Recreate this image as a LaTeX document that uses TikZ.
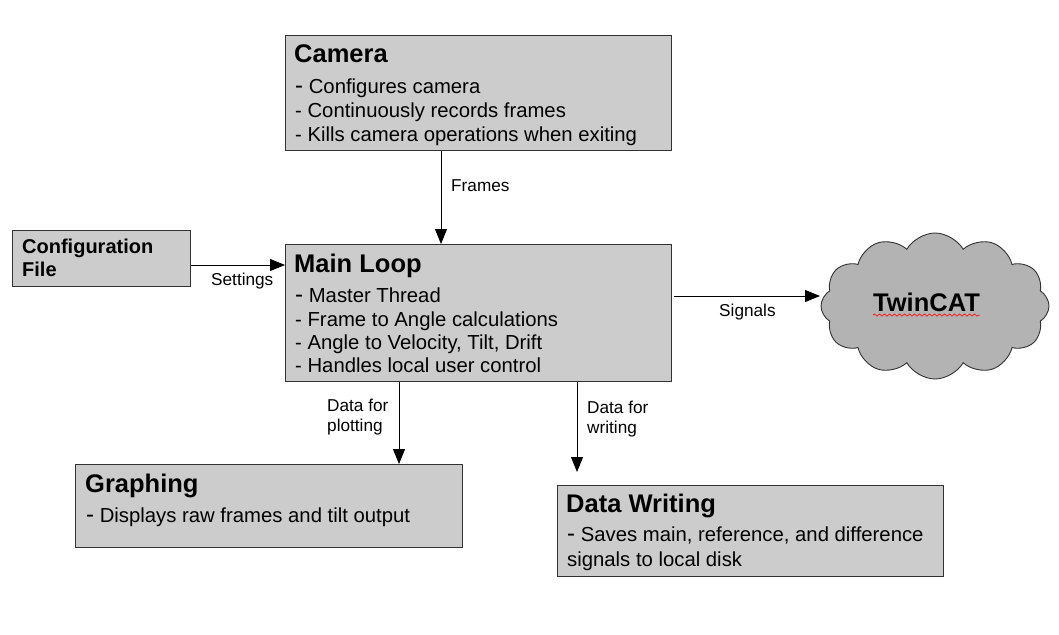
\documentclass[tikz,border=0pt]{standalone}
\usepackage{fontspec}
\setmainfont{Liberation Sans}
\usetikzlibrary{arrows.meta,shapes.symbols,decorations.pathmorphing}
\definecolor{boxfill}{HTML}{CCCCCC}
\definecolor{cloudfill}{HTML}{B3B3B3}
\definecolor{edgecol}{HTML}{333333}
\begin{document}
\begin{tikzpicture}[x=1pt,y=-1pt,
  box/.style={draw=edgecol, fill=boxfill, line width=0.9pt, inner sep=0, anchor=north west},
  ttl/.style={anchor=base west, inner sep=0, font=\fontsize{25.5}{28}\selectfont\bfseries},
  bodytxt/.style={anchor=base west, inner sep=0, font=\fontsize{20.3}{23}\selectfont},
  cfgtxt/.style={anchor=base west, inner sep=0, font=\fontsize{20}{22}\selectfont\bfseries},
  lbl/.style={anchor=base west, inner sep=0, font=\fontsize{17.2}{19}\selectfont},
  arr/.style={-{Triangle[length=15pt,width=12pt]}, line width=0.9pt, black}
]
\useasboundingbox (0,0) rectangle (1059,634);

% boxes
\node[box, minimum width=386, minimum height=115] (cam) at (285,35) {};
\node[box, minimum width=386, minimum height=137] (main) at (285,244) {};
\node[box, minimum width=178, minimum height=56] (cfg) at (12,230) {};
\node[box, minimum width=387, minimum height=83] (graph) at (75,464) {};
\node[box, minimum width=386, minimum height=91] (dw) at (557,485) {};
\node[cloud, cloud puffs=12, cloud puff arc=120, aspect=1.55, draw=edgecol, fill=cloudfill,
      line width=0.9pt, inner sep=0, minimum width=228, minimum height=146] (tc) at (935,306) {};

% camera text
\node[ttl] (camT) at (294,63) {Camera};
\node[bodytxt] (cam1) at (295,93) {{\fontsize{24}{24}\selectfont-} Configures camera};
\node[bodytxt] (cam2) at (295,117) {- Continuously records frames};
\node[bodytxt] (cam3) at (295,141) {- Kills camera operations when exiting};

% main loop text
\node[ttl] (mainT) at (294,272) {Main Loop};
\node[bodytxt] (main1) at (295,302) {{\fontsize{24}{24}\selectfont-} Master Thread};
\node[bodytxt] (main2) at (295,326) {- Frame to Angle calculations};
\node[bodytxt] (main3) at (295,349) {- Angle to Velocity, Tilt, Drift};
\node[bodytxt] (main4) at (295,372) {- Handles local user control};

% config text
\node[cfgtxt] (cfg1) at (22,253) {Configuration};
\node[cfgtxt] (cfg2) at (22,276) {File};

% graphing text
\node[ttl] (graphT) at (85,492) {Graphing};
\node[bodytxt] (graph1) at (86,522) {{\fontsize{24}{24}\selectfont-} Displays raw frames and tilt output};

% data writing text
\node[ttl] (dwT) at (566,512) {Data Writing};
\node[bodytxt] (dw1) at (567,541) {{\fontsize{24}{24}\selectfont-} Saves main, reference, and difference};
\node[bodytxt] (dw2) at (567,566) {signals to local disk};

% twincat
\node[inner sep=0, font=\fontsize{25.5}{28}\selectfont\bfseries] (tcT) at (926.5,302) {TwinCAT};
\draw[red, line width=0.6pt, decorate, decoration={snake, amplitude=1.1pt, segment length=5pt}]
  ([yshift=-3.5]tcT.south west) -- ([yshift=-3.5]tcT.south east);

% connectors
\coordinate (fx) at (441,0);
\coordinate (sy) at (0,265);
\coordinate (sgy) at (0,296);
\coordinate (px) at (399,0);
\coordinate (wx) at (577,0);
\coordinate (wend) at (577,472);
\coordinate (tcin) at (820,296);

\draw[arr] (fx |- cam.south) -- (fx |- main.north);
\draw[arr] (cfg.east |- sy) -- (main.west |- sy);
\draw[arr] ([xshift=2]main.east |- sgy) -- (tcin);
\draw[arr] (px |- main.south) -- (px |- graph.north);
\draw[arr] (wx |- main.south) -- (wend);

% labels
\node[lbl] (lfr) at (451,191) {Frames};
\node[lbl] (lset) at (211,285) {Settings};
\node[lbl] (lsig) at (719,316) {Signals};
\node[lbl] (lp1) at (327,411) {Data for};
\node[lbl] (lp2) at (327,431) {plotting};
\node[lbl] (lw1) at (587,413) {Data for};
\node[lbl] (lw2) at (587,433) {writing};
\end{tikzpicture}
\end{document}
